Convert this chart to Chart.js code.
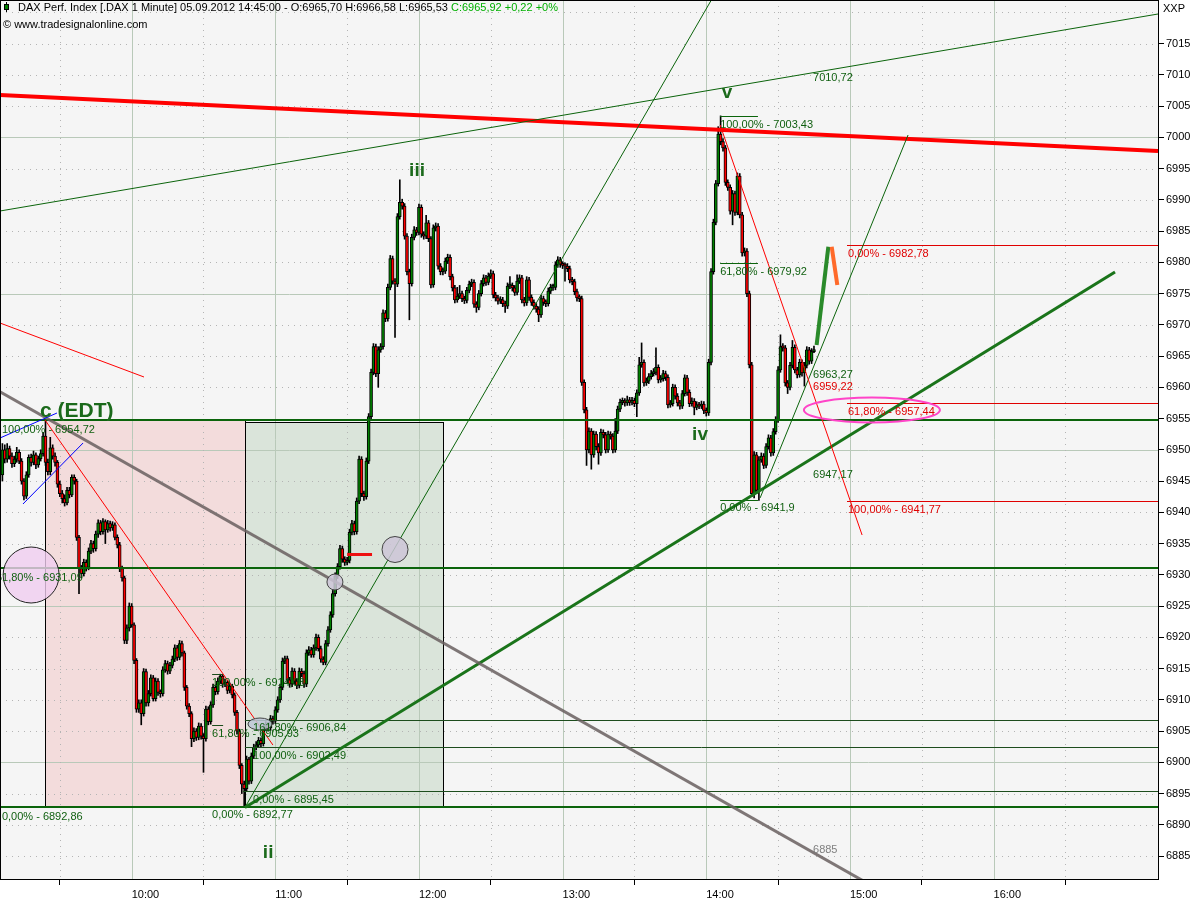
<!DOCTYPE html>
<html>
<head>
<meta charset="utf-8">
<script src="https://cdn.jsdelivr.net/npm/chart.js@4.4.0/dist/chart.umd.min.js"></script>
<style>
  html, body { margin: 0; padding: 0; background: #fff; }
</style>
</head>
<body>
<canvas id="chart" width="1200" height="900"></canvas>
<script>
// DAX 1 minute candles, 05.09.2012, first candle 09:06
const firstMinute = 546;   // minutes since midnight
const firstOpen = 6946.0;

const closes = [
  6950.0, 6948.5, 6950.2, 6949.0, 6947.8, 6948.5, 6949.6, 6948.2, 6945.0, 6942.6,
  6946.0, 6948.8, 6948.0, 6949.2, 6947.6, 6948.6, 6949.4, 6952.2, 6948.0, 6946.5,
  6950.3, 6949.0, 6948.0, 6944.5, 6943.0, 6942.2, 6941.5, 6943.5, 6942.8, 6945.6,
  6945.0, 6936.0, 6931.0, 6930.2, 6932.0, 6931.2, 6933.8, 6935.0, 6934.2, 6936.5,
  6938.3, 6936.9, 6938.5, 6937.2, 6938.2, 6937.5, 6938.0, 6936.0, 6934.8, 6931.0,
  6929.5, 6919.5, 6921.5, 6925.0, 6922.0, 6916.3, 6908.5, 6909.5, 6907.8, 6914.5,
  6909.5, 6911.0, 6913.5, 6910.2, 6913.0, 6911.2, 6911.0, 6914.8, 6915.8, 6914.6,
  6915.5, 6916.5, 6918.3, 6916.8, 6919.0, 6917.5, 6912.0, 6909.0, 6907.8, 6903.8,
  6905.0, 6904.0, 6905.8, 6904.2, 6903.8, 6908.5, 6906.5, 6909.2, 6912.0, 6911.3,
  6913.0, 6913.8, 6912.5, 6912.8, 6911.5, 6912.2, 6910.8, 6908.0, 6905.0, 6899.5,
  6896.5, 6895.8, 6900.5, 6897.0, 6901.0, 6902.4, 6902.8, 6903.5, 6903.0, 6905.5,
  6906.0, 6905.5, 6907.0, 6906.6, 6908.4, 6910.0, 6912.0, 6916.2, 6916.6, 6913.2,
  6912.5, 6914.6, 6913.0, 6912.3, 6914.6, 6914.2, 6912.5, 6917.5, 6918.0, 6917.2,
  6918.3, 6920.0, 6918.2, 6916.5, 6916.0, 6919.0, 6921.2, 6923.6, 6927.0, 6929.8,
  6931.3, 6934.2, 6932.5, 6932.0, 6932.3, 6936.8, 6938.2, 6936.9, 6941.8, 6948.5,
  6943.0, 6942.5, 6948.2, 6955.3, 6962.4, 6966.5, 6962.2, 6966.0, 6966.5, 6971.9,
  6971.0, 6976.0, 6980.6, 6977.0, 6976.5, 6987.3, 6989.6, 6989.0, 6984.2, 6978.5,
  6976.6, 6984.0, 6985.2, 6984.8, 6988.8, 6984.5, 6984.2, 6986.3, 6983.8, 6976.4,
  6985.5, 6985.8, 6979.4, 6978.5, 6978.6, 6980.2, 6980.8, 6977.7, 6975.9, 6974.0,
  6974.6, 6975.0, 6974.2, 6973.9, 6975.5, 6976.5, 6976.8, 6973.3, 6972.8, 6975.0,
  6976.6, 6977.5, 6976.8, 6977.8, 6978.2, 6974.8, 6974.3, 6973.8, 6974.0, 6973.4,
  6973.0, 6976.2, 6976.3, 6975.9, 6975.2, 6977.0, 6977.5, 6974.0, 6973.5, 6977.2,
  6974.4, 6973.6, 6973.0, 6972.5, 6971.6, 6974.2, 6973.6, 6973.4, 6975.4, 6976.0,
  6976.0, 6979.6, 6980.4, 6979.7, 6979.5, 6979.4, 6979.0, 6977.2, 6976.9, 6975.3,
  6974.3, 6974.2, 6960.8, 6956.4, 6950.0, 6953.0, 6949.2, 6952.5, 6950.5, 6949.5,
  6952.8, 6952.4, 6950.0, 6952.5, 6952.2, 6950.0, 6953.0, 6956.5, 6957.6, 6957.8,
  6957.5, 6958.0, 6957.6, 6957.9, 6957.4, 6959.1, 6963.6, 6964.0, 6960.7, 6961.0,
  6961.7, 6962.2, 6962.4, 6963.2, 6961.2, 6961.4, 6962.2, 6961.6, 6957.2, 6957.4,
  6960.0, 6958.6, 6957.5, 6957.0, 6959.0, 6961.5, 6959.2, 6957.4, 6957.8, 6956.8,
  6957.2, 6957.0, 6957.3, 6956.3, 6955.9, 6964.0, 6978.5, 6986.4, 6992.6, 7000.5,
  6999.3, 6998.3, 6992.8, 6992.0, 6988.2, 6991.0, 6988.0, 6993.8, 6987.6, 6981.5,
  6981.8, 6975.0, 6963.6, 6943.0, 6949.2, 6943.5, 6948.4, 6949.0, 6947.5, 6950.5,
  6951.9, 6949.5, 6952.9, 6954.8, 6962.8, 6966.5, 6966.3, 6960.7, 6960.0, 6963.5,
  6966.4, 6962.8, 6962.0, 6964.0, 6962.3, 6963.5, 6966.0, 6964.2, 6965.7, 6965.92
];

const highs = [
  6951.0, 6950.8, 6951.0, 6950.6, 6949.5, 6949.0, 6950.4, 6950.0, 6948.6, 6945.4,
  6946.5, 6949.2, 6949.3, 6949.8, 6949.5, 6949.0, 6950.0, 6952.8, 6954.72, 6948.5,
  6952.0, 6950.8, 6949.5, 6948.3, 6945.0, 6943.5, 6942.8, 6944.0, 6944.0, 6946.0,
  6946.0, 6945.3, 6936.3, 6931.5, 6932.5, 6932.4, 6934.3, 6935.5, 6935.4, 6937.0,
  6938.8, 6938.7, 6939.0, 6938.8, 6938.7, 6938.6, 6938.5, 6938.3, 6936.4, 6935.2,
  6931.4, 6929.8, 6922.0, 6925.5, 6925.4, 6922.3, 6916.6, 6910.0, 6910.0, 6915.0,
  6914.9, 6911.5, 6914.0, 6913.9, 6913.5, 6913.4, 6911.6, 6915.3, 6916.3, 6916.2,
  6916.0, 6917.0, 6918.8, 6918.7, 6919.5, 6919.4, 6917.8, 6912.3, 6909.4, 6908.1,
  6905.5, 6905.4, 6906.3, 6906.2, 6904.6, 6909.0, 6908.9, 6909.7, 6912.5, 6912.4,
  6913.5, 6914.1, 6914.0, 6913.3, 6913.1, 6912.7, 6912.5, 6911.1, 6908.3, 6905.3,
  6899.8, 6897.0, 6901.0, 6900.8, 6901.5, 6902.9, 6903.3, 6904.0, 6903.9, 6906.0,
  6906.5, 6906.4, 6907.5, 6907.4, 6908.9, 6910.5, 6912.5, 6916.7, 6917.0, 6917.0,
  6913.6, 6915.1, 6915.0, 6913.4, 6915.1, 6915.0, 6914.6, 6918.0, 6918.5, 6918.4,
  6918.8, 6920.5, 6920.4, 6918.6, 6916.9, 6919.5, 6921.7, 6924.1, 6927.5, 6930.3,
  6931.8, 6934.7, 6934.6, 6932.9, 6932.8, 6937.3, 6938.7, 6938.6, 6942.3, 6949.0,
  6948.9, 6943.4, 6948.7, 6955.8, 6962.9, 6967.0, 6966.9, 6966.5, 6967.0, 6972.4,
  6972.3, 6976.5, 6981.1, 6981.0, 6977.4, 6987.8, 6993.2, 6990.1, 6989.4, 6984.6,
  6978.9, 6984.5, 6985.7, 6985.6, 6989.3, 6989.2, 6984.9, 6987.5, 6986.7, 6984.1,
  6986.0, 6986.3, 6986.2, 6979.8, 6979.1, 6980.7, 6981.3, 6981.2, 6978.1, 6976.3,
  6976.0, 6976.3, 6975.4, 6974.6, 6976.0, 6977.0, 6977.3, 6977.2, 6973.7, 6975.5,
  6977.1, 6978.0, 6977.9, 6978.3, 6978.8, 6978.6, 6975.2, 6974.7, 6974.5, 6974.4,
  6973.8, 6976.7, 6977.7, 6976.7, 6976.3, 6978.0, 6978.0, 6977.9, 6974.4, 6977.7,
  6977.6, 6974.8, 6974.0, 6973.4, 6972.9, 6974.7, 6974.6, 6974.0, 6975.9, 6976.5,
  6976.5, 6980.1, 6980.9, 6980.8, 6980.1, 6979.9, 6979.8, 6979.4, 6977.6, 6977.3,
  6975.7, 6974.8, 6974.6, 6961.2, 6956.8, 6953.5, 6953.4, 6953.0, 6952.9, 6951.0,
  6953.3, 6953.2, 6952.8, 6953.0, 6952.9, 6952.6, 6955.0, 6957.0, 6958.1, 6958.3,
  6958.2, 6958.6, 6958.4, 6958.4, 6958.3, 6959.6, 6964.8, 6967.1, 6964.4, 6961.5,
  6962.2, 6962.7, 6963.0, 6966.3, 6963.6, 6961.9, 6962.7, 6962.6, 6962.0, 6957.9,
  6960.5, 6960.4, 6959.0, 6957.9, 6959.5, 6962.0, 6961.9, 6959.6, 6958.3, 6958.2,
  6957.7, 6957.6, 6957.8, 6957.7, 6956.7, 6964.5, 6979.0, 6986.9, 6993.1, 7001.7,
  7003.43, 6999.8, 6998.7, 6993.2, 6992.4, 6991.5, 6991.4, 6994.3, 6994.2, 6988.0,
  6982.3, 6982.2, 6975.4, 6964.0, 6949.7, 6949.6, 6948.9, 6949.5, 6949.4, 6951.0,
  6952.4, 6952.3, 6953.4, 6955.3, 6963.3, 6968.4, 6967.0, 6966.7, 6961.1, 6964.0,
  6967.5, 6966.8, 6963.2, 6964.5, 6964.4, 6964.0, 6966.5, 6966.4, 6966.2, 6966.58
];

const lows = [
  6945.0, 6947.9, 6948.0, 6948.5, 6947.2, 6947.3, 6948.0, 6947.8, 6944.5, 6942.0,
  6942.2, 6945.6, 6947.4, 6947.6, 6947.0, 6947.2, 6948.2, 6949.0, 6947.5, 6946.0,
  6946.0, 6948.5, 6947.4, 6944.0, 6942.5, 6941.5, 6941.0, 6941.2, 6942.3, 6942.5,
  6944.5, 6935.5, 6927.0, 6929.5, 6929.8, 6930.6, 6930.8, 6933.4, 6933.6, 6933.8,
  6936.0, 6936.4, 6936.5, 6935.0, 6936.8, 6937.0, 6937.1, 6935.6, 6934.3, 6930.5,
  6929.0, 6919.0, 6919.0, 6921.0, 6921.6, 6915.8, 6908.0, 6908.0, 6906.0, 6907.4,
  6909.0, 6909.0, 6910.6, 6909.8, 6909.8, 6910.7, 6910.4, 6910.6, 6914.4, 6914.1,
  6914.2, 6915.1, 6916.1, 6916.3, 6916.4, 6917.0, 6911.5, 6908.5, 6907.3, 6902.5,
  6903.3, 6903.5, 6903.6, 6903.7, 6898.4, 6903.4, 6906.0, 6906.1, 6908.8, 6910.8,
  6910.9, 6912.6, 6912.0, 6912.1, 6911.0, 6911.1, 6910.3, 6907.5, 6904.5, 6899.0,
  6895.0, 6892.77, 6895.4, 6896.5, 6896.6, 6900.6, 6902.0, 6902.4, 6902.5, 6902.6,
  6905.1, 6905.0, 6905.1, 6906.1, 6906.2, 6908.0, 6909.6, 6911.6, 6915.8, 6912.7,
  6912.0, 6912.1, 6912.5, 6911.8, 6911.9, 6913.7, 6912.0, 6912.1, 6917.1, 6916.8,
  6916.8, 6917.9, 6917.8, 6916.0, 6915.6, 6915.6, 6918.6, 6920.8, 6923.2, 6926.6,
  6929.4, 6930.9, 6932.0, 6931.5, 6931.6, 6931.9, 6936.4, 6936.4, 6936.5, 6941.4,
  6942.5, 6941.9, 6942.1, 6947.8, 6954.9, 6962.0, 6961.7, 6960.0, 6965.6, 6966.1,
  6970.5, 6970.6, 6975.6, 6976.5, 6968.0, 6976.1, 6986.9, 6988.5, 6983.7, 6978.0,
  6970.8, 6976.2, 6983.6, 6984.3, 6984.4, 6984.0, 6983.7, 6983.8, 6983.3, 6975.9,
  6976.0, 6985.0, 6978.9, 6978.0, 6978.0, 6978.2, 6979.8, 6977.2, 6975.4, 6973.5,
  6973.6, 6974.2, 6973.7, 6973.4, 6973.5, 6975.1, 6976.1, 6972.8, 6972.0, 6972.4,
  6974.6, 6976.2, 6976.3, 6976.4, 6977.4, 6974.3, 6973.8, 6973.3, 6973.4, 6972.9,
  6972.0, 6972.6, 6975.8, 6975.4, 6974.7, 6974.8, 6976.6, 6973.5, 6973.0, 6973.1,
  6973.9, 6973.1, 6972.5, 6972.0, 6970.5, 6971.2, 6973.1, 6972.9, 6973.0, 6975.0,
  6975.5, 6975.6, 6979.2, 6979.2, 6979.0, 6977.0, 6978.5, 6976.7, 6976.4, 6974.8,
  6973.8, 6973.7, 6960.3, 6955.9, 6947.5, 6949.5, 6946.9, 6948.8, 6950.0, 6947.7,
  6949.1, 6951.9, 6949.5, 6949.6, 6951.7, 6949.5, 6949.6, 6952.6, 6956.1, 6957.2,
  6957.0, 6957.1, 6957.1, 6957.2, 6956.9, 6955.3, 6958.7, 6963.2, 6960.2, 6960.3,
  6960.6, 6961.3, 6961.8, 6962.0, 6960.7, 6960.8, 6961.0, 6961.1, 6956.7, 6956.8,
  6957.0, 6958.1, 6957.0, 6956.5, 6956.6, 6958.6, 6958.7, 6956.9, 6957.0, 6955.6,
  6956.4, 6956.6, 6956.6, 6955.8, 6955.4, 6955.5, 6963.6, 6978.1, 6986.0, 6992.2,
  6998.8, 6997.8, 6992.3, 6991.5, 6987.7, 6986.0, 6987.5, 6987.6, 6987.1, 6981.0,
  6981.0, 6974.5, 6963.1, 6942.5, 6942.3, 6943.0, 6941.9, 6948.0, 6947.0, 6947.1,
  6950.1, 6949.0, 6949.1, 6952.5, 6954.4, 6962.4, 6965.8, 6960.2, 6959.0, 6959.6,
  6963.1, 6962.3, 6961.5, 6961.6, 6961.8, 6960.2, 6963.1, 6963.7, 6963.8, 6965.53
];

// axis ticks
const priceTicks = [6885, 6890, 6895, 6900, 6905, 6910, 6915, 6920, 6925, 6930, 6935,
  6940, 6945, 6950, 6955, 6960, 6965, 6970, 6975, 6980, 6985, 6990, 6995, 7000, 7005,
  7010, 7015, 7020];
const hiddenPriceTicks = [7020];
const timeTicks = ['09:30', '10:00', '10:30', '11:00', '11:30', '12:00', '12:30', '13:00',
  '13:30', '14:00', '14:30', '15:00', '15:30', '16:00', '16:30'];

// visible window (minutes / points)
const xMin = 545, xMax = 1028.7;
const yMin = 6881.33, yMax = 7021.97;

// drawing tools, in time (minutes) / price
const hLines = [
  { p: 6954.72, from: xMin, to: xMax, color: '#0b640b', width: 2 },
  { p: 6931.09, from: xMin, to: xMax, color: '#0b640b', width: 2 },
  { p: 6892.77, from: xMin, to: xMax, color: '#0b640b', width: 2 },
  { p: 6906.84, from: 647.3, to: xMax, color: '#1d4d1d', width: 1 },
  { p: 6902.49, from: 647.3, to: xMax, color: '#1d4d1d', width: 1 },
  { p: 6895.45, from: 646.5, to: xMax, color: '#1d4d1d', width: 1 },
  { p: 6914.08, from: 633.6, to: 638.2, color: '#1d4d1d', width: 1 },
  { p: 6905.93, from: 633.6, to: 638.2, color: '#1d4d1d', width: 1 },
  { p: 7003.43, from: 845.8, to: 861.6, color: '#0b640b', width: 1 },
  { p: 6979.92, from: 845.8, to: 861.6, color: '#0b640b', width: 1 },
  { p: 6941.90, from: 845.8, to: 861.6, color: '#0b640b', width: 1 },
  { p: 6982.78, from: 898.8, to: xMax, color: '#e00000', width: 1 },
  { p: 6957.44, from: 898.8, to: xMax, color: '#e00000', width: 1 },
  { p: 6941.77, from: 898.8, to: xMax, color: '#e00000', width: 1 },
  { p: 6933.3, from: 690.0, to: 700.4, color: '#ee1111', width: 3 }
];

const trendLines = [
  { a: [545, 7006.77], b: [1028.7, 6997.81], color: '#ff0000', width: 4 },
  { a: [545, 6988.21], b: [1028.7, 7019.73], color: '#0b640b', width: 1 },
  { a: [545, 6970.29], b: [605.15, 6961.65], color: '#ff0000', width: 1 },
  { a: [647.3, 6892.77], b: [846.7, 7025.0], color: '#0b640b', width: 1 },
  { a: [647.3, 6892.77], b: [1010.75, 6978.45], color: '#1a741a', width: 3 },
  { a: [862.5, 6942.3], b: [924.3, 7000.37], color: '#0b640b', width: 1 },
  { a: [545, 6959.3], b: [920, 6877.9], color: 'rgba(105,95,95,0.85)', width: 3 },
  { a: [563.8, 6954.77], b: [659.0, 6902.77], color: '#ff0000', width: 1 },
  { a: [845.8, 7001.97], b: [905.1, 6936.37], color: '#ff0000', width: 1 },
  { a: [545, 6951.89], b: [568.8, 6955.89], color: '#0000ff', width: 1 },
  { a: [554.6, 6941.33], b: [579.7, 6951.09], color: '#0000ff', width: 1 },
  { a: [886.1, 6966.77], b: [891.0, 6982.5], color: '#2a8a2a', width: 4 },
  { a: [892.4, 6982.5], b: [894.75, 6976.37], color: '#ff6a2a', width: 4 }
];

const boxes = [
  { t1: 563.8, t2: 647.3, p1: 6954.72, p2: 6892.9, fill: '#f3dcdc' },
  { t1: 647.3, t2: 730.0, p1: 6954.45, p2: 6892.9, fill: '#dae4da' }
];

const ellipses = [
  { t: 558.0, p: 6929.97, rx: 28, ry: 28, fill: 'rgba(240,205,240,0.8)', stroke: '#222', width: 1 },
  { t: 710.0, p: 6934.05, rx: 13, ry: 13, fill: 'rgba(205,198,215,0.85)', stroke: '#444', width: 1 },
  { t: 684.9, p: 6928.85, rx: 8, ry: 8, fill: 'rgba(205,198,215,0.85)', stroke: '#444', width: 1 },
  { t: 653.6, p: 6906.13, rx: 12, ry: 6, fill: 'rgba(190,200,215,0.85)', stroke: '#444', width: 1 },
  { t: 909.2, p: 6956.37, rx: 68, ry: 12.5, fill: null, stroke: '#ff44c8', width: 2 }
];

const G = '#0f5f0f', R = '#e00000';
const notes = [
  { t: 545.8, p: 6953.2, text: '100,00% - 6954,72', color: G },
  { t: 543.3, p: 6929.5, text: '61,80% - 6931,09', color: G },
  { t: 545.8, p: 6891.2, text: '0,00% - 6892,86', color: G },
  { t: 633.6, p: 6912.7, text: '100,00% - 6914,08', color: G },
  { t: 650.7, p: 6905.5, text: '161,80% - 6906,84', color: G },
  { t: 633.6, p: 6904.5, text: '61,80% - 6905,93', color: G },
  { t: 650.7, p: 6901.0, text: '100,00% - 6902,49', color: G },
  { t: 650.7, p: 6894.0, text: '0,00% - 6895,45', color: G },
  { t: 633.6, p: 6891.6, text: '0,00% - 6892,77', color: G },
  { t: 845.8, p: 7002.0, text: '100,00% - 7003,43', color: G },
  { t: 845.8, p: 6978.5, text: '61,80% - 6979,92', color: G },
  { t: 845.8, p: 6940.7, text: '0,00% - 6941,9', color: G },
  { t: 884.6, p: 6962.0, text: '6963,27', color: G },
  { t: 884.6, p: 6960.1, text: '6959,22', color: R },
  { t: 884.6, p: 6946.0, text: '6947,17', color: G },
  { t: 899.2, p: 6981.4, text: '0,00% - 6982,78', color: R },
  { t: 899.2, p: 6956.1, text: '61,80% - 6957,44', color: R },
  { t: 899.2, p: 6940.4, text: '100,00% - 6941,77', color: R },
  { t: 884.6, p: 7009.5, text: '7010,72', color: G },
  { t: 884.6, p: 6885.97, text: '6885', color: '#808080' }
];

const waves = [
  { t: 561.7, p: 6956.2, text: 'c (EDT)', align: 'left' },
  { t: 719.2, p: 6994.6, text: 'iii', align: 'center' },
  { t: 848.7, p: 7007.1, text: 'v', align: 'center' },
  { t: 837.4, p: 6952.4, text: 'iv', align: 'center' },
  { t: 657.0, p: 6885.6, text: 'ii', align: 'center' }
];

const headerMain = 'DAX Perf. Index [.DAX 1 Minute] 05.09.2012 14:45:00 - O:6965,70 H:6966,58 L:6965,53 ';
const headerLast = 'C:6965,92 +0,22 +0%';

const FONT = '"Liberation Sans", Arial, sans-serif';

const toMin = s => { const [h, m] = s.split(':').map(Number); return h * 60 + m; };
const opens = closes.map((c, i) => i === 0 ? firstOpen : closes[i - 1]);
const bodyData = closes.map((c, i) => ({ x: firstMinute + i, y: [opens[i], c] }));
const wickData = closes.map((c, i) => ({ x: firstMinute + i, y: [lows[i], highs[i]] }));
const bodyColors = closes.map((c, i) => c >= opens[i] ? '#008000' : '#ff0000');

const drawings = {
  id: 'drawings',
  beforeDatasetsDraw(chart) {
    const { ctx, chartArea: a, scales: { x, y } } = chart;
    ctx.save();
    ctx.fillStyle = '#f5f5f5';
    ctx.fillRect(a.left, a.top, a.width, a.height);
    boxes.forEach(b => {
      const x1 = Math.round(x.getPixelForValue(b.t1)) + 0.5, x2 = Math.round(x.getPixelForValue(b.t2)) + 0.5;
      const y1 = Math.round(y.getPixelForValue(b.p1)) + 0.5, y2 = Math.round(y.getPixelForValue(b.p2)) + 0.5;
      ctx.fillStyle = b.fill;
      ctx.fillRect(x1, y1, x2 - x1, y2 - y1);
    });
    // grid
    ctx.lineWidth = 1;
    priceTicks.forEach(v => {
      const py = Math.round(y.getPixelForValue(v)) + 0.5;
      const solid = v % 25 === 0;
      ctx.strokeStyle = solid ? '#b9c9b9' : '#b4b4b4';
      ctx.setLineDash(solid ? [] : [1, 5]);
      ctx.beginPath(); ctx.moveTo(a.left, py); ctx.lineTo(a.right, py); ctx.stroke();
    });
    timeTicks.map(toMin).forEach(v => {
      const px = Math.round(x.getPixelForValue(v)) + 0.5;
      const solid = v % 60 === 0;
      ctx.strokeStyle = solid ? '#b9c9b9' : '#b4b4b4';
      ctx.setLineDash(solid ? [] : [1, 5]);
      ctx.beginPath(); ctx.moveTo(px, a.top); ctx.lineTo(px, a.bottom); ctx.stroke();
    });
    ctx.setLineDash([]);
    ctx.strokeStyle = '#000';
    boxes.forEach(b => {
      const x1 = Math.round(x.getPixelForValue(b.t1)) + 0.5, x2 = Math.round(x.getPixelForValue(b.t2)) + 0.5;
      const y1 = Math.round(y.getPixelForValue(b.p1)) + 0.5, y2 = Math.round(y.getPixelForValue(b.p2)) + 0.5;
      ctx.strokeRect(x1, y1, x2 - x1, y2 - y1);
    });
    ctx.restore();
  },
  afterDatasetsDraw(chart) {
    const { ctx, chartArea: a, scales: { x, y } } = chart;
    ctx.save();
    ctx.beginPath(); ctx.rect(a.left, a.top, a.width, a.height); ctx.clip();
    hLines.forEach(l => {
      const py = Math.round(y.getPixelForValue(l.p)) + (l.width % 2 ? 0.5 : 0);
      ctx.strokeStyle = l.color; ctx.lineWidth = l.width;
      ctx.beginPath();
      ctx.moveTo(x.getPixelForValue(l.from), py);
      ctx.lineTo(x.getPixelForValue(l.to), py);
      ctx.stroke();
    });
    trendLines.forEach(l => {
      ctx.strokeStyle = l.color; ctx.lineWidth = l.width;
      ctx.beginPath();
      ctx.moveTo(x.getPixelForValue(l.a[0]), y.getPixelForValue(l.a[1]));
      ctx.lineTo(x.getPixelForValue(l.b[0]), y.getPixelForValue(l.b[1]));
      ctx.stroke();
    });
    ellipses.forEach(e => {
      ctx.beginPath();
      ctx.ellipse(x.getPixelForValue(e.t), y.getPixelForValue(e.p), e.rx, e.ry, 0, 0, Math.PI * 2);
      if (e.fill) { ctx.fillStyle = e.fill; ctx.fill(); }
      ctx.strokeStyle = e.stroke; ctx.lineWidth = e.width; ctx.stroke();
    });
    ctx.textBaseline = 'middle';
    ctx.font = '11px ' + FONT;
    ctx.textAlign = 'left';
    notes.forEach(n => {
      ctx.fillStyle = n.color;
      ctx.fillText(n.text, x.getPixelForValue(n.t), y.getPixelForValue(n.p));
    });
    ctx.fillStyle = '#1b6a1b';
    waves.forEach(w => {
      ctx.font = (w.align === 'left' ? 'bold 21px ' : 'bold 19px ') + FONT;
      ctx.textAlign = w.align;
      ctx.fillText(w.text, x.getPixelForValue(w.t), y.getPixelForValue(w.p));
    });
    ctx.restore();
  },
  afterDraw(chart) {
    const { ctx, chartArea: a } = chart;
    ctx.save();
    ctx.strokeStyle = '#000'; ctx.lineWidth = 1;
    ctx.strokeRect(a.left + 0.5, a.top + 0.5, a.right - a.left, a.bottom - a.top);
    // header
    ctx.fillStyle = '#000';
    ctx.fillRect(6, 2, 1, 10);
    ctx.fillStyle = '#008000';
    ctx.fillRect(4, 4, 5, 6);
    ctx.strokeStyle = '#000';
    ctx.strokeRect(4.5, 4.5, 4, 5);
    ctx.font = '11px ' + FONT;
    ctx.textBaseline = 'middle';
    ctx.textAlign = 'left';
    ctx.fillStyle = '#000';
    ctx.fillText(headerMain, 18, 8);
    const w = ctx.measureText(headerMain).width;
    ctx.fillStyle = '#00b000';
    ctx.fillText(headerLast, 18 + w, 8);
    ctx.fillStyle = '#000';
    ctx.fillText('\u00a9 www.tradesignalonline.com', 3, 25);
    ctx.fillText('XXP', a.right + 5, 9);
    ctx.restore();
  }
};

new Chart(document.getElementById('chart'), {
  type: 'bar',
  data: {
    datasets: [
      {
        label: 'body', data: bodyData, order: 0,
        backgroundColor: bodyColors, borderColor: '#000', borderWidth: 1,
        borderSkipped: false, barThickness: 3, minBarLength: 2, grouped: false
      },
      {
        label: 'wick', data: wickData, order: 1,
        backgroundColor: '#000', borderWidth: 0,
        barThickness: 1, minBarLength: 1, grouped: false
      }
    ]
  },
  options: {
    responsive: false,
    animation: false,
    events: [],
    layout: { padding: 0 },
    plugins: { legend: { display: false }, tooltip: { enabled: false } },
    scales: {
      x: {
        type: 'linear', min: xMin, max: xMax, offset: false,
        afterBuildTicks: s => { s.ticks = timeTicks.map(t => ({ value: toMin(t) })); },
        afterFit: s => { s.height = 21; s.paddingLeft = 0; s.paddingRight = 0; },
        grid: {
          drawOnChartArea: false, offset: false, tickLength: 6,
          tickColor: c => (c.tick && c.tick.value % 60 === 0) ? 'rgba(0,0,0,0)' : '#000'
        },
        border: { display: false },
        ticks: {
          autoSkip: false, maxRotation: 0, align: 'start', padding: 3, color: '#000',
          font: { family: FONT, size: 11 },
          callback: v => v % 60 === 0 ? timeTicks.find(t => toMin(t) === v) : ''
        }
      },
      y: {
        type: 'linear', position: 'right', min: yMin, max: yMax,
        afterBuildTicks: s => { s.ticks = priceTicks.map(v => ({ value: v })); },
        afterFit: s => { s.width = 42; s.paddingTop = 0; s.paddingBottom = 0; },
        grid: {
          drawOnChartArea: false, tickLength: 6,
          tickColor: c => (c.tick && hiddenPriceTicks.includes(c.tick.value)) ? 'rgba(0,0,0,0)' : '#000'
        },
        border: { display: false },
        ticks: {
          padding: 2, color: '#000', font: { family: FONT, size: 11 },
          callback: v => hiddenPriceTicks.includes(v) ? '' : String(v)
        }
      }
    }
  },
  plugins: [drawings]
});
</script>
</body>
</html>
